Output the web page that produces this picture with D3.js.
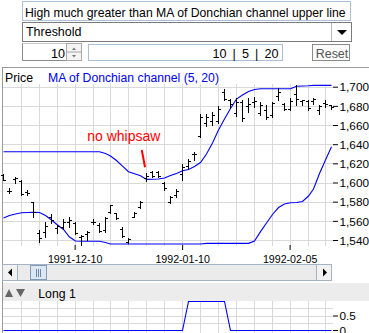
<!DOCTYPE html>
<html><head><meta charset="utf-8">
<script src="https://cdn.jsdelivr.net/npm/d3@7"></script>
<style>
html,body{margin:0;padding:0;background:#fff;overflow:hidden}
svg{display:block;font-family:"Liberation Sans",Arial,sans-serif}
</style></head><body>
<svg id="c" width="369" height="333"></svg>
<script>
const dates = ["1991-11-22","1991-11-25","1991-11-26","1991-11-27","1991-11-28","1991-11-29",
"1991-12-02","1991-12-03","1991-12-04","1991-12-05","1991-12-06","1991-12-09","1991-12-10",
"1991-12-11","1991-12-12","1991-12-13","1991-12-16","1991-12-17","1991-12-18","1991-12-19",
"1991-12-20","1991-12-23","1991-12-27","1991-12-30","1992-01-02","1992-01-03","1992-01-06",
"1992-01-07","1992-01-08","1992-01-09","1992-01-10","1992-01-13","1992-01-14","1992-01-15",
"1992-01-16","1992-01-17","1992-01-20","1992-01-21","1992-01-22","1992-01-23","1992-01-24",
"1992-01-27","1992-01-28","1992-01-29","1992-01-30","1992-01-31","1992-02-03","1992-02-04",
"1992-02-05","1992-02-06","1992-02-07","1992-02-10","1992-02-11","1992-02-12","1992-02-13","1992-02-14"];
const open  = [1608,1591.5,1603.7,1601.9,1589.6,1579.3,1547.3,1548.3,1564,1552.5,1553.6,1558.8,1557.7,1543.1,1546.3,1559.1,1555.7,1550.4,1569.2,1568.2,1551.5,1537.9,1564,1574.4,1604.2,1611,1610.5,1599.5,1579.7,1587,1608.9,1617.2,1629.7,1648.5,1662.1,1664.2,1664.2,1694.4,1686.1,1672.5,1684,1679.8,1684,1672.5,1675.7,1670.4,1690.3,1682,1676.7,1692.4,1685,1685,1685,1675.7,1683,1680.4];
const high  = [1608.9,1594.3,1605.7,1602.6,1592.2,1579.7,1550.4,1559.1,1567.1,1555.7,1561.4,1564,1558.8,1545.2,1549.4,1561.4,1557.7,1564.3,1577,1568.7,1553.6,1542.1,1569.7,1580.2,1609.9,1611.5,1611.5,1601,1586.4,1593.2,1619.3,1624.5,1632.3,1671,1672,1673.6,1679.8,1697.6,1687.1,1687.7,1685.6,1687.7,1689.2,1684,1680.9,1684.5,1698.6,1683,1687.7,1701.3,1686.1,1686.1,1687.7,1681.4,1685.6,1680.9];
const low   = [1602.6,1589.1,1599.2,1587,1587,1564,1538.2,1543.5,1557.4,1547.3,1551.5,1553.6,1546.3,1535.3,1540,1556.7,1548.3,1548.3,1567.7,1562.4,1543.1,1536.9,1563.5,1572.9,1602.1,1605.7,1605.7,1592.2,1578.1,1584.9,1603.1,1613.6,1623.2,1647.5,1659.5,1660.5,1662.1,1686.1,1677.7,1668.9,1664.7,1674.1,1678.8,1670.4,1666.8,1668.4,1686.1,1675.7,1675.7,1680.9,1680.4,1675.7,1682.4,1672,1678.8,1677.2];
const close = [1602.6,1591,1604.7,1587.7,1589,1569.5,1542.1,1554.6,1560.9,1554.6,1558.8,1560.9,1547.3,1543.7,1548.3,1559.1,1549.4,1563,1576.5,1563,1543.7,1541,1568.7,1579.7,1606.8,1606.3,1607,1594.3,1584.9,1591.2,1616.2,1622.4,1629.7,1668.4,1668.4,1670.4,1676.7,1687.1,1681.9,1684,1667.3,1682,1685,1680.9,1668.4,1683,1694.4,1676.7,1685,1687.1,1685.6,1677.7,1687.1,1679.8,1682,1678.3];
const maUpper = [1632.1,1632.1,1632.1,1632.1,1632.1,1632.1,1632.1,1632.1,1632.1,1632.1,1632.1,1632.1,1632.1,1632.1,1632.1,1632.1,1632.1,1630.3,1627.7,1623,1617.2,1611.3,1609.2,1607.1,1603.3,1603.4,1603.7,1604.7,1607.3,1609.4,1612.3,1613.6,1616.7,1620.9,1629.7,1641.2,1654.8,1666.3,1677.2,1687.1,1691.3,1695,1697,1697.9,1697.9,1697.9,1697.9,1697.9,1697.9,1700.4,1700.7,1701,1701.4,1701.4,1701.4,1701.4];
const maLower = [1562.9,1565.6,1567.1,1568.5,1568.7,1568.9,1568.7,1565.6,1560.9,1555.7,1551,1543.1,1539,1538.7,1538.7,1538.7,1538.7,1537.4,1535.8,1535.8,1535.8,1535.8,1535.8,1535.8,1535.8,1535.8,1535.8,1535.8,1535.8,1535.8,1535.8,1535.8,1535.8,1535.8,1536.5,1536.5,1536.5,1536.5,1536.5,1536.5,1536.5,1536.5,1539,1548.7,1557.7,1566.6,1573.9,1577.6,1578.9,1579.2,1580.2,1585.9,1593.2,1609.4,1623.5,1637.4];
const signal = [0,0,0,0,0,0,0,0,0,0,0,0,0,0,0,0,0,0,0,0,0,0,0,0,0,0,0,0,0,0,0,1,1,1,1,1,1,1,0,0,0,0,0,0,0,0,0,0,0,0,0,0,0,0,0,0];
const priceTicks = [1540,1560,1580,1600,1620,1640,1660,1680,1700];
const dateTicks = ["1991-12-10","1992-01-10","1992-02-05"];
const signalTicks = [0,0.5];
const signalGrid = [0.25,0.5,0.75];

const svg = d3.select("#c");
function fit(sel, w){ const n=sel.node(); const l=n.getComputedTextLength(); const fs=parseFloat(sel.attr("font-size")); sel.attr("font-size",(fs*w/l).toFixed(2)); return sel; }

// ---------- controls ----------
svg.append("rect").attr("x",22.5).attr("y",1.5).attr("width",328).attr("height",19).attr("fill","#fff").attr("stroke","#a9c0d8");
fit(svg.append("text").attr("x",25).attr("y",16.5).attr("font-size",13).text("High much greater than MA of Donchian channel upper line"),321);

svg.append("rect").attr("x",22.5).attr("y",22.5).attr("width",329).attr("height",19).attr("fill","#fff").attr("stroke","#7a7a7a");
svg.append("line").attr("x1",331.5).attr("x2",331.5).attr("y1",23).attr("y2",41).attr("stroke","#b8b8b8");
svg.append("polygon").attr("points","337,30 347,30 342,35").attr("fill","#000");
fit(svg.append("text").attr("x",26).attr("y",36).attr("font-size",13).text("Threshold"),55.5);

svg.append("rect").attr("x",22.5).attr("y",43.5).attr("width",44).attr("height",17).attr("fill","#fff").attr("stroke","#c8c8c8");
svg.append("path").attr("d","M22.5,43.5V60.5H66.5").attr("fill","none").attr("stroke","#8a8a8a");
fit(svg.append("text").attr("x",65).attr("y",58).attr("text-anchor","end").attr("font-size",13).text("10"),14);
svg.append("rect").attr("x",66.5).attr("y",43.5).attr("width",15).attr("height",17).attr("fill","#f4f4f4").attr("stroke","#a8a8a8");
svg.append("line").attr("x1",66.5).attr("x2",81.5).attr("y1",52).attr("y2",52).attr("stroke","#a8a8a8");
svg.append("polygon").attr("points","72,50 76,50 74,47.5").attr("fill","#777");
svg.append("polygon").attr("points","72,55 76,55 74,57.5").attr("fill","#777");

svg.append("rect").attr("x",88.5).attr("y",44.5).attr("width",194).attr("height",16).attr("fill","#fff").attr("stroke","#a9c0d8");
const paramsText = svg.append("text").attr("x",278.5).attr("y",58).attr("text-anchor","end").attr("font-size",12.6).text("10 | 5 | 20");
(()=>{ const l=paramsText.node().getComputedTextLength(); paramsText.attr("word-spacing",((66-l)/4).toFixed(2)); })();

svg.append("rect").attr("x",312.5).attr("y",44.5).attr("width",37).attr("height",16).attr("fill","#fafafa").attr("stroke","#8a8a8a");
fit(svg.append("text").attr("x",332).attr("y",58.3).attr("text-anchor","middle").attr("fill","#555").attr("font-size",13).text("Reset"),32.5);

// ---------- frame ----------
svg.append("line").attr("x1",2).attr("x2",369).attr("y1",67.5).attr("y2",67.5).attr("stroke","#9a9a9a");
svg.append("line").attr("x1",2.5).attr("x2",2.5).attr("y1",67).attr("y2",333).attr("stroke","#9a9a9a");

// ---------- price panel ----------
const x = d3.scalePoint().domain(dates).range([3, 331.4]);
const px = d => Math.round(x(d));
const y = d3.scaleLinear().domain([1540,1700]).range([240,86.7]);
const gridC = "#d9d9d9";
const plotTop = 84, plotBot = 246, plotR = 333;

const grid = svg.append("g");
dates.forEach((d,i)=>{ if(i%3===0 && i>0){
  grid.append("line").attr("x1",px(d)+0.5).attr("x2",px(d)+0.5).attr("y1",plotTop).attr("y2",plotBot).attr("stroke",gridC);
  grid.append("line").attr("x1",px(d)+0.5).attr("x2",px(d)+0.5).attr("y1",301).attr("y2",333).attr("stroke",gridC);
}});
priceTicks.forEach(t=>{
  const yy=Math.round(y(t))+0.5;
  grid.append("line").attr("x1",3).attr("x2",plotR).attr("y1",yy).attr("y2",yy).attr("stroke",gridC);
});

fit(svg.append("text").attr("x",5).attr("y",82).attr("font-size",12).text("Price"),28);
fit(svg.append("text").attr("x",48).attr("y",82).attr("font-size",12).attr("fill","#0000ff").text("MA of Donchian channel (5, 20)"),171);

const line = d3.line().x((d,i)=>px(dates[i])+0.5).y(d=>y(d));
svg.append("path").datum(maUpper).attr("d",line).attr("fill","none").attr("stroke","#0000ff").attr("stroke-width",1.1);
svg.append("path").datum(maLower).attr("d",line).attr("fill","none").attr("stroke","#0000ff").attr("stroke-width",1.1);

const bars = svg.append("g").attr("fill","#000");
dates.forEach((d,i)=>{
  const xi=px(d), yh=Math.round(y(high[i])), yl=Math.round(y(low[i]));
  bars.append("rect").attr("x",xi).attr("y",yh).attr("width",1).attr("height",Math.max(1,yl-yh+1));
  bars.append("rect").attr("x",xi-2).attr("y",Math.round(y(open[i]))).attr("width",2).attr("height",1);
  bars.append("rect").attr("x",xi+1).attr("y",Math.round(y(close[i]))).attr("width",2).attr("height",1);
});

// annotation
fit(svg.append("text").attr("x",87.3).attr("y",140.5).attr("font-size",12).attr("fill","#ff0000").text("no whipsaw"),73);
svg.append("line").attr("x1",141.8).attr("y1",150).attr("x2",145).attr("y2",167.3).attr("stroke","#ff0000").attr("stroke-width",2);

// y axis
const ya = svg.append("g").attr("transform",`translate(${plotR},0)`)
  .call(d3.axisRight(y).tickValues(priceTicks).tickSize(5).tickPadding(1.5).tickFormat(d3.format(",")));
ya.select(".domain").remove();
ya.selectAll("line").attr("stroke","#000");
ya.selectAll("text").attr("font-family",null).attr("font-size",11).attr("fill","#000").attr("dy","0.36em");
const fsY = (()=>{const t=ya.select("text"); const l=t.node().getComputedTextLength(); return 11*29.5/l;})();
ya.selectAll("text").attr("font-size",fsY.toFixed(2));

// x axis
const xa = svg.append("g").attr("transform",`translate(0,${plotBot-1})`)
  .call(d3.axisBottom(x).tickValues(dateTicks).tickSize(5));
xa.select(".domain").remove();
xa.selectAll("line").attr("stroke","#000");
xa.selectAll("text").attr("font-family",null).attr("font-size",11).attr("fill","#000").attr("y",10).attr("dy","0.71em");
const fsX = (()=>{const t=xa.select("text"); const l=t.node().getComputedTextLength(); return 11*54.5/l;})();
xa.selectAll("text").attr("font-size",fsX.toFixed(2));

// ---------- scrollbar ----------
const sb = svg.append("g");
sb.append("rect").attr("x",2.5).attr("y",264.5).attr("width",329).attr("height",16).attr("fill","#ebebeb").attr("stroke","#a3b3c4");
sb.append("rect").attr("x",2.5).attr("y",264.5).attr("width",15).attr("height",16).attr("fill","#f2f2f2").attr("stroke","#a3b3c4");
sb.append("rect").attr("x",316.5).attr("y",264.5).attr("width",15).attr("height",16).attr("fill","#f2f2f2").attr("stroke","#a3b3c4");
sb.append("polygon").attr("points","8,272.5 12,268.5 12,276.5").attr("fill","#000");
sb.append("polygon").attr("points","327,272.5 323,268.5 323,276.5").attr("fill","#000");
sb.append("rect").attr("x",30.5).attr("y",265.5).attr("width",16).attr("height",14).attr("fill","#dce7f3").attr("stroke","#7f9db9");
[36.5,38.5,40.5].forEach(g=>sb.append("line").attr("x1",g).attr("x2",g).attr("y1",269).attr("y2",277).attr("stroke","#6a88a8"));

// ---------- signal panel ----------
svg.append("rect").attr("x",3).attr("y",283).attr("width",366).attr("height",18).attr("fill","#ececec");
svg.append("polygon").attr("points","5,297 13,297 9,289").attr("fill","#666");
svg.append("polygon").attr("points","16,289 25,289 20.5,297").attr("fill","#666");
fit(svg.append("text").attr("x",38.3).attr("y",298).attr("font-size",12).text("Long 1"),37.5);

const y2 = d3.scaleLinear().domain([0,1]).range([330,301]);
signalGrid.forEach(t=>{
  const yy=Math.round(y2(t))+0.5;
  svg.append("line").attr("x1",3).attr("x2",plotR).attr("y1",yy).attr("y2",yy).attr("stroke",gridC);
});
const sline = d3.line().x((d,i)=>px(dates[i])+0.5).y(d=>Math.round(y2(d))+0.5);
svg.append("path").datum(signal).attr("d",sline).attr("fill","none").attr("stroke","#0000ff").attr("stroke-width",1.1);
const ya2 = svg.append("g").attr("transform",`translate(${plotR},0)`)
  .call(d3.axisRight(y2).tickValues(signalTicks).tickSize(5).tickPadding(1.5).tickFormat(d=>d===0?"0":"0.5"));
ya2.select(".domain").remove();
ya2.selectAll("line").attr("stroke","#000");
ya2.selectAll("text").attr("font-family",null).attr("font-size",fsY.toFixed(2)).attr("fill","#000").attr("dy","0.36em");
</script>
</body></html>
